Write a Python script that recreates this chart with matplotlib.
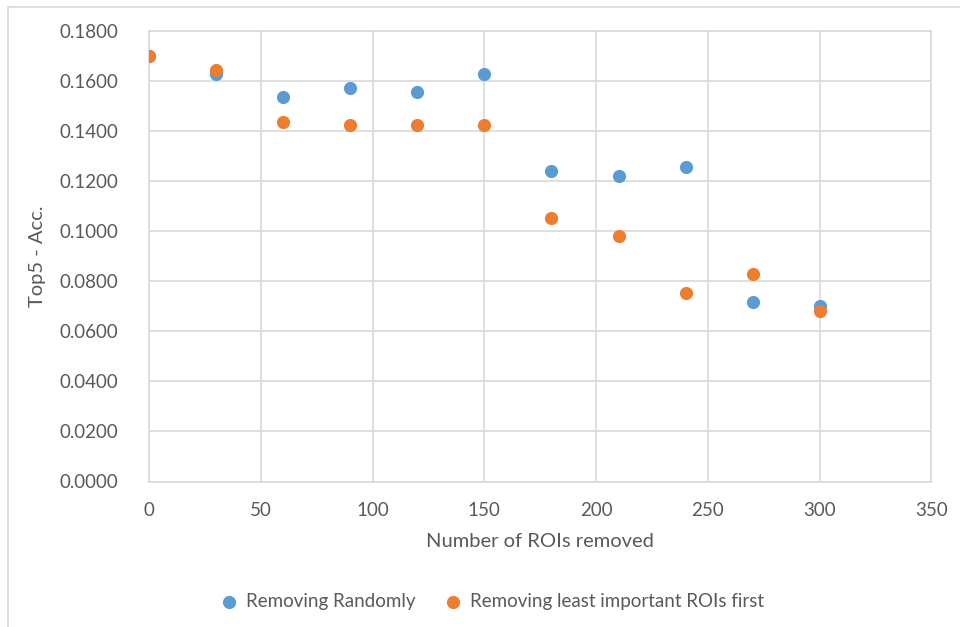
import matplotlib.pyplot as plt
from matplotlib.patches import Rectangle

rois_removed = [0, 30, 60, 90, 120, 150, 180, 210, 240, 270, 300]
acc_random = [0.1702, 0.1630, 0.1535, 0.1574, 0.1555, 0.1630,
              0.1239, 0.1220, 0.1256, 0.0718, 0.0703]
acc_least_first = [0.1702, 0.1646, 0.1436, 0.1424, 0.1424, 0.1424,
                   0.1052, 0.0979, 0.0755, 0.0831, 0.0682]
y_ticks = [0.0, 0.02, 0.04, 0.06, 0.08, 0.10, 0.12, 0.14, 0.16, 0.18]
x_ticks = [0, 50, 100, 150, 200, 250, 300, 350]

plt.rcParams['font.family'] = ['Lato', 'DejaVu Sans']
grid_c = '#D9D9D9'
text_c = '#595959'

fig = plt.figure(figsize=(9.6, 6.27), dpi=100)
ax = fig.add_axes([149 / 960, 1 - 481.5 / 627, (931.5 - 149) / 960, (481.5 - 31) / 627])

# outer chart border
fig.patches.append(Rectangle((8 / 960, -0.1), 1.2, 1 - 6.5 / 627 + 0.1,
                             transform=fig.transFigure, fill=False,
                             edgecolor=grid_c, linewidth=1.2))

ax.scatter(rois_removed, acc_random, s=90, color='#5B9BD5',
           label='Removing Randomly', zorder=3, linewidths=0)
ax.scatter(rois_removed, acc_least_first, s=90, color='#ED7D31',
           label='Removing least important ROIs first', zorder=4, linewidths=0)

ax.set_xlim(0, 350)
ax.set_ylim(0, 0.18)
ax.set_xticks(x_ticks)
ax.set_yticks(y_ticks)
ax.set_yticklabels([f'{v:.4f}' for v in y_ticks])
ax.grid(True, color=grid_c, linewidth=1.2, zorder=0)
ax.set_axisbelow(True)
for sp in ax.spines.values():
    sp.set_color(grid_c)
    sp.set_linewidth(1.2)
ax.tick_params(length=0, labelsize=13.5, colors=text_c)
ax.tick_params(axis='y', pad=22)
ax.tick_params(axis='x', pad=15)

ax.set_xlabel('Number of ROIs removed', fontsize=14.5, color=text_c, labelpad=10)
ax.set_ylabel('Top5 - Acc.', fontsize=14.5, color=text_c, labelpad=10)

# legend is centred on the whole chart area, not the plot area
ax.legend(loc='upper center', bbox_to_anchor=(0.432, -0.21), ncol=2, frameon=False,
          fontsize=13.5, labelcolor=text_c, handletextpad=-0.1, columnspacing=1.0,
          markerscale=1.0)

fig.savefig('out.png', dpi=100)
